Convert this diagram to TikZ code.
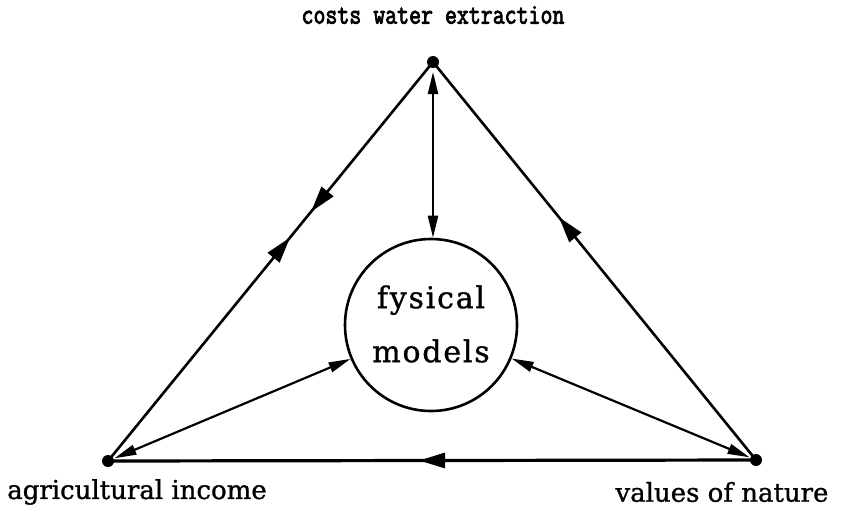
\documentclass[tikz,border=0pt]{standalone}
\usepackage{fontspec}
\usetikzlibrary{arrows.meta,decorations.markings}
\newfontfamily\seriffam{DejaVu Serif}[FakeBold=1]
\newfontfamily\circfam{DejaVu Serif}[LetterSpace=6,FakeBold=1]
\newfontfamily\ttbfam{Latin Modern Mono}[FakeBold=3]
\begin{document}
\begin{tikzpicture}[x=1pt,y=-1pt,
  side/.style={line width=2.6pt},
  bigtip/.tip={Triangle[length=26pt,width=15pt]},
  smalltip/.tip={Triangle[length=22pt,width=10pt]},
  dot/.style={circle,fill=black,inner sep=0pt,minimum size=12pt},
  lbl/.style={inner sep=0pt,font=\seriffam\fontsize{26}{30}\selectfont},
  inner/.style={line width=2.2pt,{smalltip}-{smalltip}}
]
\useasboundingbox (0,0) rectangle (851,515);
\coordinate (T) at (433,62);
\coordinate (L) at (108,461);
\coordinate (R) at (756,460);
\node[circle,draw,line width=2.6pt,minimum size=172pt,inner sep=0pt] (C) at (431,325) {};
\node[inner sep=0pt,align=center,font=\circfam\fontsize{30}{54}\selectfont] (Ct) at (431,324) {fysical\\models};
% triangle sides
\draw[side,decoration={markings,
    mark=at position 0.375 with {\arrow{bigtip}},
    mark=at position 0.44 with {\arrowreversed{bigtip}}},postaction={decorate}] (T) -- (L);
\draw[side,decoration={markings,
    mark=at position 0.39 with {\arrowreversed{bigtip}}},postaction={decorate}] (T) -- (R);
\draw[side,line width=3.2pt,decoration={markings,
    mark=at position 0.52 with {\arrow{bigtip}}},postaction={decorate}] (R) -- (L);
% inner double arrows
\draw[inner,shorten <=10pt] (T) -- (T |- C.north);
\draw[inner,shorten >=7pt] (C) -- (L);
\draw[inner,shorten >=7pt] (C) -- (R);
\node[dot] (Td) at (T) {};
\node[dot] (Ld) at (L) {};
\node[dot] (Rd) at (R) {};
% labels
\node[inner sep=0pt,font=\ttbfam\fontsize{29}{32}\selectfont] (tl) at (433,15) {\scalebox{0.8}[1]{costs water extraction}};
\node[lbl] (bl) at (137,492) {agricultural income};
\node[lbl] (br) at (722,492) {values of nature};
\end{tikzpicture}
\end{document}
